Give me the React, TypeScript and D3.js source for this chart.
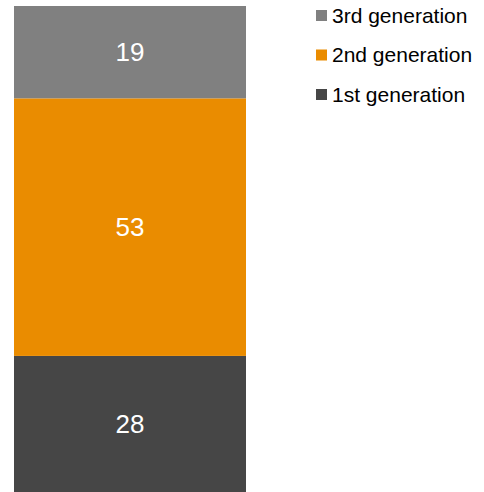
import React from "react";
import * as d3 from "d3";

const series = ["1st generation", "2nd generation", "3rd generation"];
const values = [28, 53, 19];
const colors = ["#464646", "#EA8C00", "#808080"];
const legendOrder = ["3rd generation", "2nd generation", "1st generation"];

const W = 484;
const H = 492;

export default function App() {
  const y = d3.scaleLinear().domain([0, 100]).range([492, 6]);
  const x = d3.scaleBand().domain(["bar"]).range([14, 246]).padding(0);
  const row: Record<string, number> = { bar: 0 };
  series.forEach((s, i) => (row[s] = values[i]));
  const stacked = d3.stack<any>().keys(series)([row]);
  const bw = x.bandwidth();
  const bx = x("bar") as number;

  return (
    <div style={{ position: "absolute", left: 0, top: 0 }}>
      <svg width={W} height={H} style={{ display: "block", fontFamily: "'Liberation Sans', Arial, sans-serif" }}>
        <rect x={0} y={0} width={W} height={H} fill="#fff" />
        {stacked.map((layer, i) => {
          const d = layer[0];
          const y0 = y(d[0]);
          const y1 = y(d[1]);
          return (
            <g key={layer.key}>
              <rect x={bx} y={y1} width={bw} height={y0 - y1} fill={colors[i]} />
              <text
                x={bx + bw / 2}
                y={(y0 + y1) / 2}
                textAnchor="middle"
                dominantBaseline="central"
                fill="#fff"
                fontSize={26}
              >
                {values[i]}
              </text>
            </g>
          );
        })}
        {legendOrder.map((s, j) => {
          const i = series.indexOf(s);
          const cy = 15.5 + j * 39.5;
          return (
            <g key={s}>
              <rect x={316} y={cy - 5.5} width={11} height={11} fill={colors[i]} />
              <text x={332} y={cy - 0.5} dominantBaseline="central" fontSize={21} fill="#000">
                {s}
              </text>
            </g>
          );
        })}
      </svg>
    </div>
  );
}
